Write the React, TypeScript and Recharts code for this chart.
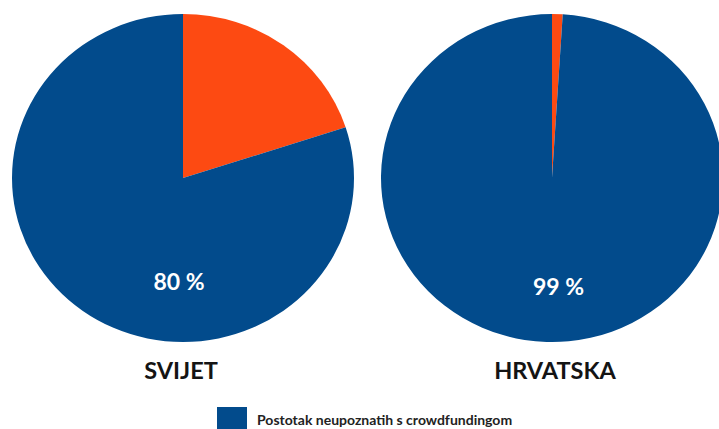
import { PieChart, Pie, Cell } from 'recharts';

// Udio ljudi koji (ne) poznaju crowdfunding
const regions = ['SVIJET', 'HRVATSKA'];
const unfamiliar = [80, 99];
const familiar = [20, 1];
const legendLabel = 'Postotak neupoznatih s crowdfundingom';

const BLUE = '#024b8c';
const ORANGE = '#fd4a12';
const FONT = 'Lato, "Open Sans", sans-serif';

// geometrija (pita je u originalu blago razvučena vodoravno)
const SIZE = 340;
const RADIUS = 164;
const STRETCH = 171 / 164;
const centersX = [183, 551.5];
const centerY = 177.5;
const valueLabelPos = [
  { x: 179, y: 281 },
  { x: 558.5, y: 286 },
];
const titleX = [181, 555];

function RegionPie({ index }: { index: number }) {
  const data = [
    { name: 'upoznati', value: familiar[index] },
    { name: 'neupoznati', value: unfamiliar[index] },
  ];
  return (
    <div
      style={{
        position: 'absolute',
        left: centersX[index] - SIZE / 2,
        top: centerY - SIZE / 2,
        width: SIZE,
        height: SIZE,
        transform: `scaleX(${STRETCH})`,
        transformOrigin: 'center center',
      }}
    >
      <PieChart width={SIZE} height={SIZE} margin={{ top: 0, right: 0, bottom: 0, left: 0 }}>
        <Pie
          data={data}
          dataKey="value"
          cx="50%"
          cy="50%"
          outerRadius={RADIUS}
          startAngle={90}
          endAngle={-270}
          stroke="none"
          isAnimationActive={false}
        >
          <Cell fill={ORANGE} />
          <Cell fill={BLUE} />
        </Pie>
      </PieChart>
    </div>
  );
}

export default function App() {
  return (
    <div
      style={{
        position: 'absolute',
        left: 0,
        top: 0,
        width: 719,
        height: 429,
        overflow: 'hidden',
        background: '#fff',
        fontFamily: FONT,
      }}
    >
      {regions.map((r, i) => (
        <RegionPie key={r} index={i} />
      ))}

      {regions.map((r, i) => (
        <div
          key={`v-${r}`}
          style={{
            position: 'absolute',
            left: valueLabelPos[i].x - 60,
            top: valueLabelPos[i].y - 15,
            width: 120,
            height: 30,
            lineHeight: '30px',
            textAlign: 'center',
            color: '#fff',
            fontWeight: 700,
            fontSize: 23,
          }}
        >
          {unfamiliar[i]} %
        </div>
      ))}

      {regions.map((r, i) => (
        <div
          key={`t-${r}`}
          style={{
            position: 'absolute',
            left: titleX[i] - 100,
            top: 354,
            width: 200,
            height: 32,
            lineHeight: '32px',
            textAlign: 'center',
            color: '#141414',
            fontWeight: 700,
            fontSize: 23.5,
          }}
        >
          {r}
        </div>
      ))}

      <div
        style={{
          position: 'absolute',
          left: 217,
          top: 407,
          width: 30,
          height: 30,
          background: BLUE,
        }}
      />
      <div
        style={{
          position: 'absolute',
          left: 257,
          top: 410,
          height: 20,
          lineHeight: '20px',
          color: '#222',
          fontWeight: 700,
          fontSize: 14,
          whiteSpace: 'nowrap',
        }}
      >
        {legendLabel}
      </div>
    </div>
  );
}
